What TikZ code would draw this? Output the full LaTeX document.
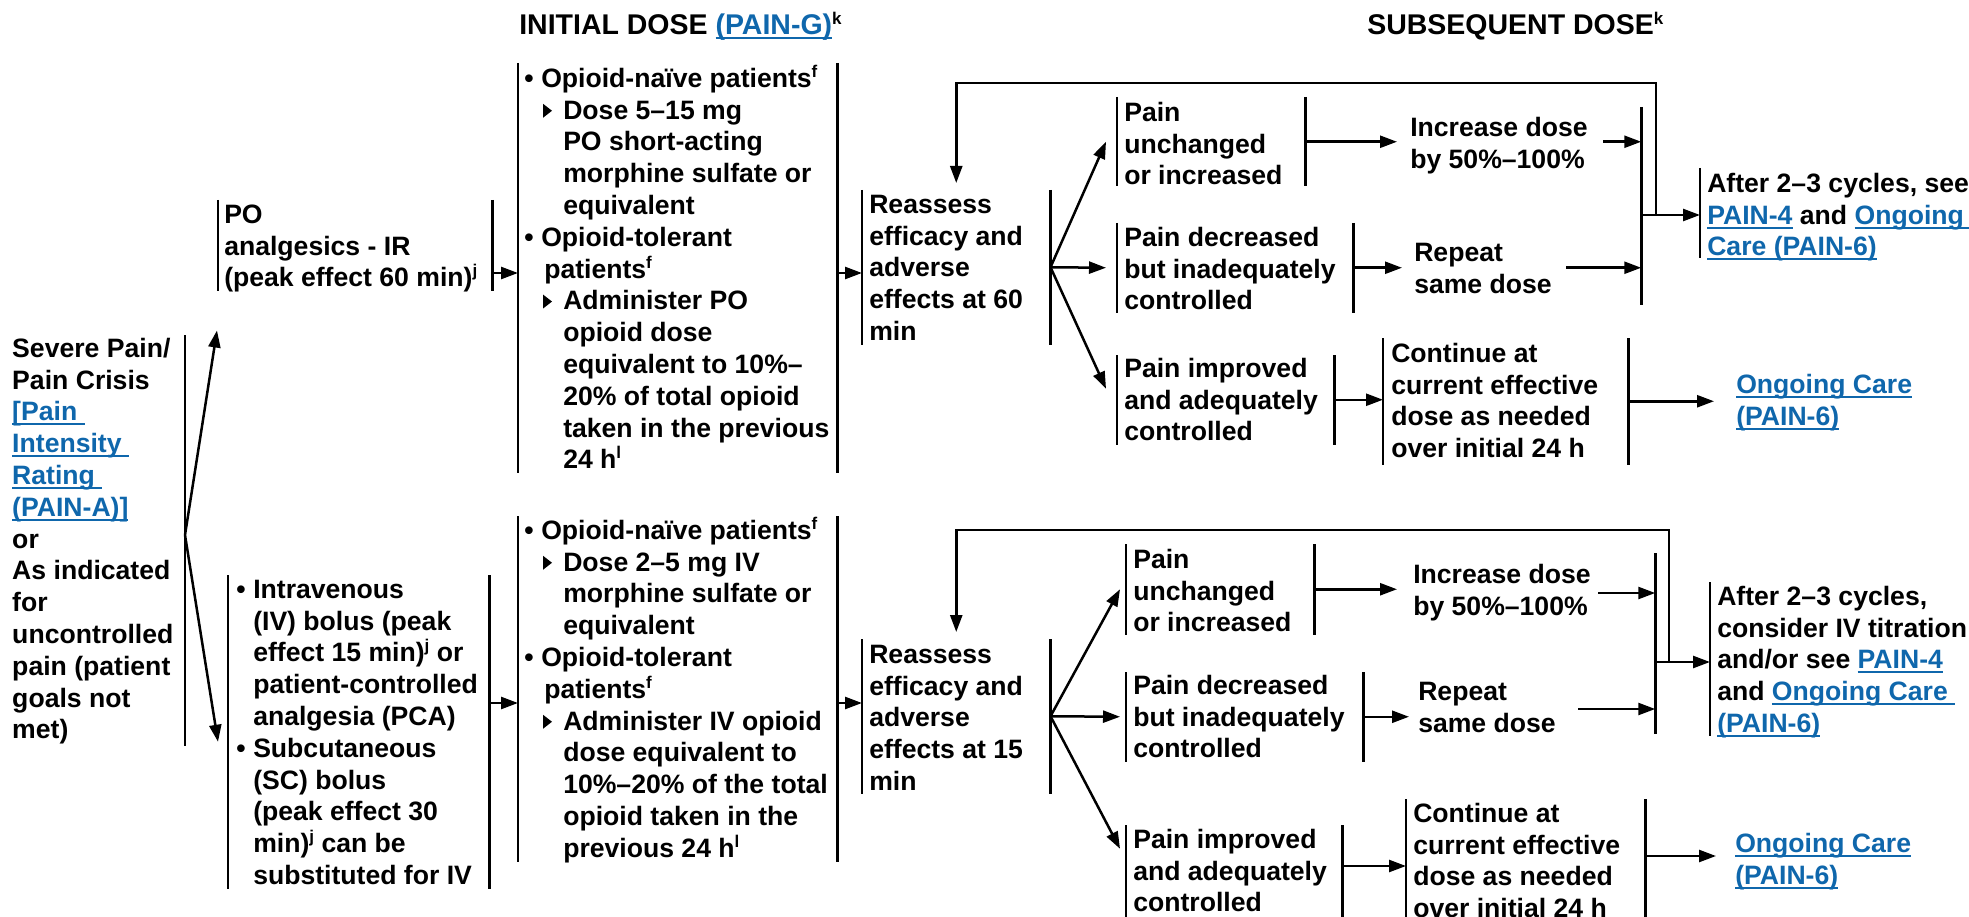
\documentclass[tikz,border=0pt]{standalone}
\usepackage{fontspec}
\setmainfont{Liberation Sans}
\usetikzlibrary{arrows.meta,calc}
\definecolor{linkblue}{HTML}{0F67AC}
\newsavebox\lnkbox
\newcommand\lnk[1]{\begingroup\color{linkblue}\sbox\lnkbox{#1}\rlap{\rule[-4.5pt]{\wd\lnkbox}{2pt}}\usebox\lnkbox\endgroup}
\newcommand\sups[1]{\raisebox{10pt}{\fontsize{17}{17}\selectfont #1}}
\newcommand\bulA{\makebox[17pt][l]{•}}
\newcommand\bulB{\makebox[17pt][l]{•}}
\begin{document}
\begin{tikzpicture}[x=1pt,y=-1pt,line width=2.5pt,
 txt/.style={inner sep=0pt,anchor=north west,align=left,font=\fontsize{26.6}{31.8}\selectfont\bfseries},
 head/.style={inner sep=0pt,anchor=base west,font=\fontsize{28.5}{34}\selectfont\bfseries},
 box/.style={inner sep=0pt,anchor=north west,draw=none},
 arr/.style={-{Triangle[length=17pt,width=12pt]}}]
\useasboundingbox (0,0) rectangle (1969,917);

% headings
\node[head] (hInit) at (518,35) {INITIAL DOSE \lnk{(PAIN-G)}\sups{k}};
\node[head] (hSub) at (1366,35) {SUBSEQUENT DOSE\sups{k}};

% boxes (bars)
\node[box,anchor=north east,minimum width=170pt,minimum height=408pt] (sev) at (185,335) {};
\node[box,minimum width=272pt,minimum height=88pt] (po) at (218,200) {};
\node[box,minimum width=259pt,minimum height=311pt] (iv) at (228,575) {};
\node[box,minimum width=317pt,minimum height=407pt] (in1) at (518,63) {};
\node[box,minimum width=317pt,minimum height=343pt] (in2) at (518,516) {};
\node[box,minimum width=186pt,minimum height=152pt] (re1) at (862,190) {};
\node[box,minimum width=186pt,minimum height=152pt] (re2) at (862,639) {};
\node[box,minimum width=186pt,minimum height=87pt] (unc1) at (1117,97) {};
\node[box,minimum width=234pt,minimum height=87pt] (dec1) at (1117,223) {};
\node[box,minimum width=215pt,minimum height=87pt] (imp1) at (1117,355) {};
\node[box,minimum width=186pt,minimum height=88pt] (unc2) at (1126,544) {};
\node[box,minimum width=235pt,minimum height=87pt] (dec2) at (1126,672) {};
\node[box,minimum width=214pt,minimum height=95pt] (imp2) at (1126,825) {};
\node[box,minimum width=243pt,minimum height=124pt] (con1) at (1383,338) {};
\node[box,minimum width=237pt,minimum height=121pt] (con2) at (1406,799) {};
\node[box,minimum width=0pt,minimum height=195pt] (col1) at (1640,107) {};
\node[box,minimum width=0pt,minimum height=178pt] (col2) at (1654,553) {};
\node[box,minimum width=265pt,minimum height=88pt] (aft1) at (1700,168) {};
\node[box,minimum width=255pt,minimum height=151pt] (aft2) at (1710,582) {};

\draw (sev.north east) -- (sev.south east);
\foreach \b in {po,iv,in1,in2,re1,re2,unc1,dec1,imp1,unc2,dec2,imp2,con1,con2}{
  \draw (\b.north west) -- (\b.south west) (\b.north east) -- (\b.south east);}
\draw (col1.north) -- (col1.south);
\draw (col2.north) -- (col2.south);
\draw (aft1.north west) -- (aft1.south west);
\draw (aft2.north west) -- (aft2.south west);

% texts
\node[txt] (sevT) at (11,333.7) {\strut Severe Pain/\\Pain Crisis\\\lnk{[Pain\ }\\\lnk{Intensity\ }\\\lnk{Rating\ }\\\lnk{(PAIN-A)]}\\or\\As indicated\\for\\uncontrolled\\pain (patient\\goals not\\met)};
\node[txt] (poT) at (223,199.7) {\strut PO\\analgesics - IR\\(peak effect 60 min)\sups{j}};
\node[txt] (ivT) at (235,574.7) {\strut\bulB Intravenous\\
\hspace*{17pt}(IV) bolus (peak\\
\hspace*{17pt}effect 15 min)\sups{j} or\\
\hspace*{17pt}patient-controlled\\
\hspace*{17pt}analgesia (PCA)\\
\bulB Subcutaneous\\
\hspace*{17pt}(SC) bolus\\
\hspace*{17pt}(peak effect 30\\
\hspace*{17pt}min)\sups{j} can be\\
\hspace*{17pt}substituted for IV};
\node[txt] (in1T) at (523,63.7) {\strut\bulA Opioid-naïve patients\sups{f}\\
\hspace*{39pt}Dose 5–15 mg\\
\hspace*{39pt}PO short-acting\\
\hspace*{39pt}morphine sulfate or\\
\hspace*{39pt}equivalent\\
\bulA Opioid-tolerant\\
\hspace*{20pt}patients\sups{f}\\
\hspace*{39pt}Administer PO\\
\hspace*{39pt}opioid dose\\
\hspace*{39pt}equivalent to 10\%–\\
\hspace*{39pt}20\% of total opioid\\
\hspace*{39pt}taken in the previous\\
\hspace*{39pt}24 h\sups{l}};
\node[txt] (in2T) at (523,515.7) {\strut\bulA Opioid-naïve patients\sups{f}\\
\hspace*{39pt}Dose 2–5 mg IV\\
\hspace*{39pt}morphine sulfate or\\
\hspace*{39pt}equivalent\\
\bulA Opioid-tolerant\\
\hspace*{20pt}patients\sups{f}\\
\hspace*{39pt}Administer IV opioid\\
\hspace*{39pt}dose equivalent to\\
\hspace*{39pt}10\%–20\% of the total\\
\hspace*{39pt}opioid taken in the\\
\hspace*{39pt}previous 24 h\sups{l}};
\fill ($(in1T.north west)+(20,54.06)$) -- ++(0,-14) -- ++(9,7) -- cycle;
\fill ($(in1T.north west)+(20,244.86)$) -- ++(0,-14) -- ++(9,7) -- cycle;
\fill ($(in2T.north west)+(20,54.06)$) -- ++(0,-14) -- ++(9,7) -- cycle;
\fill ($(in2T.north west)+(20,213.06)$) -- ++(0,-14) -- ++(9,7) -- cycle;

\node[txt] (re1T) at (868,189.7) {\strut Reassess\\efficacy and\\adverse\\effects at 60\\min};
\node[txt] (re2T) at (868,639.7) {\strut Reassess\\efficacy and\\adverse\\effects at 15\\min};
\node[txt] (unc1T) at (1123,97.7) {\strut Pain\\unchanged\\or increased};
\node[txt] (dec1T) at (1123,222.7) {\strut Pain decreased\\but inadequately\\controlled};
\node[txt] (imp1T) at (1123,353.7) {\strut Pain improved\\and adequately\\controlled};
\node[txt] (unc2T) at (1132,544.7) {\strut Pain\\unchanged\\or increased};
\node[txt] (dec2T) at (1132,670.7) {\strut Pain decreased\\but inadequately\\controlled};
\node[txt] (imp2T) at (1132,824.7) {\strut Pain improved\\and adequately\\controlled};
\node[txt] (inc1T) at (1409,112.7) {\strut Increase dose\\by 50\%–100\%};
\node[txt] (rep1T) at (1413,237.7) {\strut Repeat\\same dose};
\node[txt] (inc2T) at (1412,559.7) {\strut Increase dose\\by 50\%–100\%};
\node[txt] (rep2T) at (1417,676.7) {\strut Repeat\\same dose};
\node[txt] (con1T) at (1390,338.7) {\strut Continue at\\current effective\\dose as needed\\over initial 24 h};
\node[txt] (con2T) at (1412,798.7) {\strut Continue at\\current effective\\dose as needed\\over initial 24 h};
\node[txt] (aft1T) at (1706,168.7) {\strut After 2–3 cycles, see\\\lnk{PAIN-4} and \lnk{Ongoing\ }\\\lnk{Care (PAIN-6)}};
\node[txt] (aft2T) at (1716,581.7) {\strut After 2–3 cycles,\\consider IV titration\\and/or see \lnk{PAIN-4}\\and \lnk{Ongoing Care\ }\\\lnk{(PAIN-6)}};
\node[txt] (ong1T) at (1735,369.7) {\strut\lnk{Ongoing Care}\\\lnk{(PAIN-6)}};
\node[txt] (ong2T) at (1734,828.7) {\strut\lnk{Ongoing Care}\\\lnk{(PAIN-6)}};

% helper coordinates
\coordinate (y273) at (0,273);
\coordinate (y703) at (0,703);
\coordinate (y535) at (0,535);
\coordinate (y83) at (0,83);
\coordinate (y530) at (0,530);
\coordinate (y593) at (0,593);
\coordinate (y709) at (0,709);
\coordinate (y866) at (0,866);
\coordinate (y856) at (0,856);
\coordinate (lp1) at (1656,215);
\coordinate (lp2) at (1669,662);
\coordinate (fan0) at (sev.east |- y535);
\coordinate (top1) at (re1.north |- y83);
\coordinate (top2) at (re2.north |- y530);

% connectors
\draw[arr] (fan0) -- ($(po.south west)+(-1,40)$);
\draw[arr] (fan0) -- ($(iv.west)+(-10,10)$);
\draw[arr] (po.east |- y273) -- (in1.west |- y273);
\draw[arr] (iv.east |- y703) -- (in2.west |- y703);
\draw[arr] (in1.east |- y273) -- (re1.west |- y273);
\draw[arr] (in2.east |- y703) -- (re2.west |- y703);

\draw[arr] (re1.east) -- ($(unc1.west)+(-11,0)$);
\draw[arr] (re1.east) -- ($(dec1.west)+(-11,0)$);
\draw[arr] (re1.east) -- ($(imp1.west)+(-11,-11)$);
\draw[arr] (re2.east) -- ($(unc2.west)+(-6,0)$);
\draw[arr] (re2.east) -- ($(dec2.west)+(-6,0)$);
\draw[arr] (re2.east) -- ($(imp2.west)+(-6,-25)$);

\draw[arr] (unc1.east) -- ($(inc1T.west |- unc1.east)+(-12,0)$);
\draw[arr] ($(col1 |- unc1.east)+(-38,0)$) -- (col1 |- unc1.east);
\draw[arr] (dec1.east) -- ($(rep1T.west |- dec1.east)+(-11,0)$);
\draw[arr] ($(col1 |- dec1.east)+(-75,0)$) -- (col1 |- dec1.east);
\draw[arr] (col1 |- lp1) -- (aft1.west |- lp1);
\draw[arr,shorten >=7pt] (lp1) |- (top1) -- (re1.north);
\draw[arr] (imp1.east) -- (con1.west |- imp1.east);
\draw[arr] (con1.east) -- ($(ong1T.west |- con1.east)+(-21,0)$);

\draw[arr] (unc2.east) -- ($(inc2T.west |- unc2.east)+(-15,0)$);
\draw[arr] ($(col2 |- y593)+(-57,0)$) -- (col2 |- y593);
\draw[arr] (dec2.east) -- ($(rep2T.west |- dec2.east)+(-8,0)$);
\draw[arr] ($(col2 |- y709)+(-77,0)$) -- (col2 |- y709);
\draw[arr] (col2 |- lp2) -- (aft2.west |- lp2);
\draw[arr,shorten >=7pt] (lp2) |- (top2) -- (re2.north);
\draw[arr] (imp2.east |- y866) -- (con2.west |- y866);
\draw[arr] (con2.east |- y856) -- ($(ong2T.west |- y856)+(-18,0)$);
\end{tikzpicture}
\end{document}
